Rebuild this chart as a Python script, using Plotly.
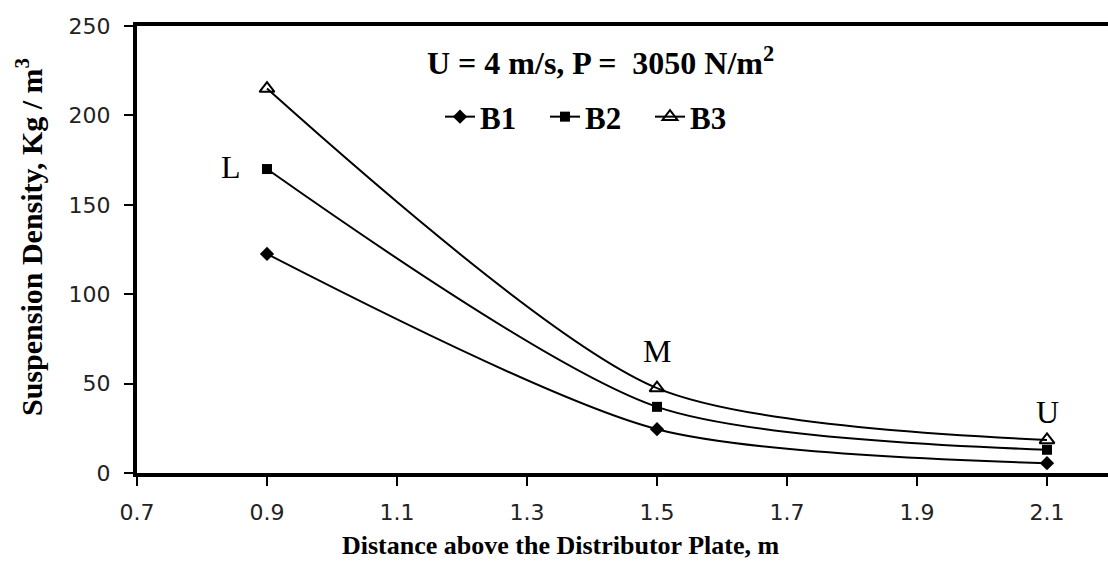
import plotly.graph_objects as go

distance = [0.9, 1.5, 2.1]
b1 = [122.5, 24.5, 5.5]
b2 = [170.0, 37.0, 13.0]
b3 = [215.0, 47.5, 18.5]
series_names = ["B1", "B2", "B3"]
x_ticks = [0.7, 0.9, 1.1, 1.3, 1.5, 1.7, 1.9, 2.1]
y_ticks = [0, 50, 100, 150, 200, 250]
zone_labels = ["L", "M", "U"]
zone_x = [0.845, 1.5, 2.1]
zone_y = [171, 68, 34]

fig = go.Figure()
styles = [
    dict(symbol="diamond", size=11, color="black", line=dict(width=0)),
    dict(symbol="square", size=10, color="black", line=dict(width=0)),
    dict(symbol="triangle-up-open", size=13, color="black", line=dict(width=2, color="black")),
]
for name, vals, mk in zip(series_names, [b1, b2, b3], styles):
    fig.add_trace(go.Scatter(
        x=distance, y=vals, name=name, mode="lines+markers",
        line=dict(color="black", width=2, shape="spline", smoothing=0.75),
        marker=mk,
    ))

for t, x, y in zip(zone_labels, zone_x, zone_y):
    fig.add_annotation(x=x, y=y, xref="x", yref="y", text=t, showarrow=False,
                       font=dict(family="Liberation Serif", size=32, color="black"))

fig.add_annotation(x=(600 - 137) / 971, y=(473 - 61) / 447, xref="paper", yref="paper",
                   xanchor="center", yanchor="middle",
                   text="U = 4 m/s, P =  3050 N/m<sup>2</sup>", showarrow=False,
                   font=dict(family="Liberation Serif", size=32, color="black", weight="bold"))

fig.add_annotation(x=(560 - 137) / 971, y=-(545 - 473) / 447, xref="paper", yref="paper",
                   xanchor="center", yanchor="middle",
                   text="Distance above the Distributor Plate, m", showarrow=False,
                   font=dict(family="Liberation Serif", size=26, color="black", weight="bold"))

fig.add_annotation(x=-(137 - 29) / 971, y=(473 - 237) / 447, xref="paper", yref="paper",
                   xanchor="center", yanchor="middle",
                   text="Suspension Density, Kg / m<sup>3</sup>", showarrow=False, textangle=-90,
                   font=dict(family="Liberation Serif", size=30, color="black", weight="bold"))

fig.update_layout(
    width=1108, height=574,
    margin=dict(l=137, r=0, t=26, b=101),
    paper_bgcolor="white", plot_bgcolor="white",
    showlegend=True,
    legend=dict(orientation="h", x=(440 - 137) / 971, y=(473 - 117) / 447,
                xanchor="left", yanchor="middle",
                font=dict(family="Liberation Serif", size=31, color="black", weight="bold"),
                bgcolor="rgba(0,0,0,0)", itemwidth=30, tracegroupgap=0,
                entrywidth=60, entrywidthmode="pixels"),
    xaxis=dict(range=[0.7, 0.7 + 971 / 650], tickvals=x_ticks,
               ticktext=[f"{v:.1f}" for v in x_ticks],
               showgrid=False, zeroline=False, showline=True, linecolor="black", linewidth=4,
               mirror=True, ticks="outside", ticklen=9, tickwidth=2, tickcolor="black",
               ticklabelstandoff=8,
               tickfont=dict(family="DejaVu Sans", size=22, color="#222")),
    yaxis=dict(range=[0, 250], tickvals=y_ticks,
               showgrid=False, zeroline=False, showline=True, linecolor="black", linewidth=4,
               ticks="outside", ticklen=9, tickwidth=2, tickcolor="black",
               ticklabelstandoff=9,
               tickfont=dict(family="DejaVu Sans", size=22, color="#222")),
)

fig.write_html("out.html")
